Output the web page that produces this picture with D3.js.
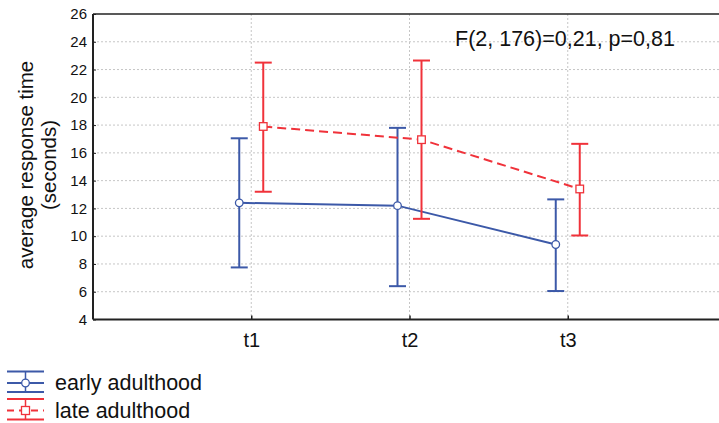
<!DOCTYPE html>
<html>
<head>
<meta charset="utf-8">
<script src="https://cdn.jsdelivr.net/npm/d3@7"></script>
<style>
  body { margin: 0; background: #fff; }
  text { font-family: Arial, "Liberation Sans", sans-serif; fill: #111; }
</style>
</head>
<body>
<svg id="chart" width="719" height="423"></svg>
<script>
// values
const categories = ["t1", "t2", "t3"];
const earlyMean = [12.4, 12.2, 9.4];
const earlyLow = [7.75, 6.4, 6.05];
const earlyHigh = [17.05, 17.8, 12.65];
const lateMean = [17.9, 16.95, 13.4];
const lateLow = [13.2, 11.25, 10.05];
const lateHigh = [22.5, 22.65, 16.65];
const yTicks = [4, 6, 8, 10, 12, 14, 16, 18, 20, 22, 24, 26];
const seriesNames = ["early adulthood", "late adulthood"];
const statText = "F(2, 176)=0,21, p=0,81";

const BLUE = "#3c59a8", RED = "#f0323a";
const FONT = "Arial, 'Liberation Sans', sans-serif";
const plotL = 93, plotR = 726, plotT = 14, plotB = 319.5;

const svg = d3.select("#chart");

const x = d3.scalePoint().domain(categories).range([plotL, plotR]).padding(1);
const y = d3.scaleLinear().domain([4, 26]).range([plotB, plotT]);

// grid
const grid = svg.append("g")
  .attr("stroke", "#c6c6c6")
  .attr("stroke-width", 1)
  .attr("stroke-dasharray", "2,2");
grid.selectAll(".hg")
  .data(yTicks.slice(1, -1))
  .enter()
  .append("line")
  .attr("x1", plotL).attr("x2", plotR)
  .attr("y1", (d) => y(d)).attr("y2", (d) => y(d));
grid.selectAll(".vg")
  .data(categories)
  .enter()
  .append("line")
  .attr("x1", (d) => x(d)).attr("x2", (d) => x(d))
  .attr("y1", plotT).attr("y2", plotB);

// y axis
const yAxis = svg.append("g")
  .attr("transform", `translate(${plotL},0)`)
  .call(d3.axisLeft(y).tickValues(yTicks).tickSize(-3).tickPadding(6));
yAxis.select(".domain").remove();
yAxis.selectAll("text").attr("font-size", 15).style("font-family", FONT).attr("fill", "#111");
yAxis.selectAll(".tick line").attr("stroke", "#222");

// x axis
const xAxis = svg.append("g")
  .attr("transform", `translate(0,${plotB})`)
  .call(d3.axisBottom(x).tickSize(-4).tickPadding(13));
xAxis.select(".domain").remove();
xAxis.selectAll("text").attr("font-size", 20).style("font-family", FONT).attr("fill", "#111");
xAxis.selectAll(".tick line").attr("stroke", "#222").attr("stroke-width", 1.5);

// frame
const frame = svg.append("g").attr("stroke", "#222").attr("fill", "none");
frame.append("line").attr("x1", plotL).attr("x2", 719).attr("y1", plotT).attr("y2", plotT).attr("stroke-width", 1.5);
frame.append("line").attr("x1", plotL).attr("x2", 719).attr("y1", plotB).attr("y2", plotB).attr("stroke-width", 2.2);
frame.append("line").attr("x1", plotL).attr("x2", plotL).attr("y1", plotT).attr("y2", plotB).attr("stroke-width", 2);

// series
const series = [
  { mean: earlyMean, low: earlyLow, high: earlyHigh, color: BLUE, off: -12, dash: null, marker: "circle" },
  { mean: lateMean, low: lateLow, high: lateHigh, color: RED, off: 12, dash: "9,5", marker: "square" },
];

series.forEach((s) => {
  const g = svg.append("g");
  const px = (i) => x(categories[i]) + s.off;
  const idx = d3.range(categories.length);

  // error bars
  idx.forEach((i) => {
    g.append("line")
      .attr("x1", px(i)).attr("x2", px(i))
      .attr("y1", y(s.high[i])).attr("y2", y(s.low[i]))
      .attr("stroke", s.color).attr("stroke-width", 2);
    [s.high[i], s.low[i]].forEach((v) => {
      g.append("line")
        .attr("x1", px(i) - 8.5).attr("x2", px(i) + 8.5)
        .attr("y1", y(v)).attr("y2", y(v))
        .attr("stroke", s.color).attr("stroke-width", 2);
    });
  });

  // mean line
  g.append("path")
    .datum(idx)
    .attr("fill", "none")
    .attr("stroke", s.color)
    .attr("stroke-width", 2)
    .attr("stroke-dasharray", s.dash)
    .attr("d", d3.line().x((i) => px(i)).y((i) => y(s.mean[i])));

  // markers
  idx.forEach((i) => {
    if (s.marker === "circle") {
      g.append("circle")
        .attr("cx", px(i)).attr("cy", y(s.mean[i])).attr("r", 3.8)
        .attr("fill", "#fff").attr("stroke", s.color).attr("stroke-width", 1.3);
    } else {
      g.append("rect")
        .attr("x", px(i) - 3.8).attr("y", y(s.mean[i]) - 3.8)
        .attr("width", 7.6).attr("height", 7.6)
        .attr("fill", "#fff").attr("stroke", s.color).attr("stroke-width", 1.3);
    }
  });
});

// statistics text
svg.append("text")
  .attr("x", 455).attr("y", 46)
  .attr("font-size", 21.5)
  .text(statText);

// y label
const yl = svg.append("text")
  .attr("transform", "translate(0,165) rotate(-90)")
  .attr("text-anchor", "middle")
  .attr("font-size", 20.5);
yl.append("tspan").attr("x", 0).attr("y", 33).text("average response time");
yl.append("tspan").attr("x", 0).attr("y", 56).text("(seconds)");

// legend
const legend = svg.append("g");
series.forEach((s, k) => {
  const cy = 383 + k * 27.5;
  const lg = legend.append("g");
  lg.append("line").attr("x1", 7).attr("x2", 44).attr("y1", cy - 11.5).attr("y2", cy - 11.5)
    .attr("stroke", s.color).attr("stroke-width", 1.8);
  lg.append("line").attr("x1", 7).attr("x2", 44).attr("y1", cy + 9).attr("y2", cy + 9)
    .attr("stroke", s.color).attr("stroke-width", 1.8);
  lg.append("line").attr("x1", 25.5).attr("x2", 25.5).attr("y1", cy - 11.5).attr("y2", cy + 9)
    .attr("stroke", s.color).attr("stroke-width", 1.5);
  lg.append("line").attr("x1", 7).attr("x2", 44).attr("y1", cy).attr("y2", cy)
    .attr("stroke", s.color).attr("stroke-width", 1.8)
    .attr("stroke-dasharray", s.dash ? "7,5" : null);
  if (s.marker === "circle") {
    lg.append("circle").attr("cx", 25.5).attr("cy", cy).attr("r", 3.8)
      .attr("fill", "#fff").attr("stroke", s.color).attr("stroke-width", 1.3);
  } else {
    lg.append("rect").attr("x", 21.5).attr("y", cy - 4).attr("width", 8).attr("height", 8)
      .attr("fill", "#fff").attr("stroke", s.color).attr("stroke-width", 1.3);
  }
  lg.append("text").attr("x", 55).attr("y", cy + 7).attr("font-size", 21.5).text(seriesNames[k]);
});
</script>
</body>
</html>
